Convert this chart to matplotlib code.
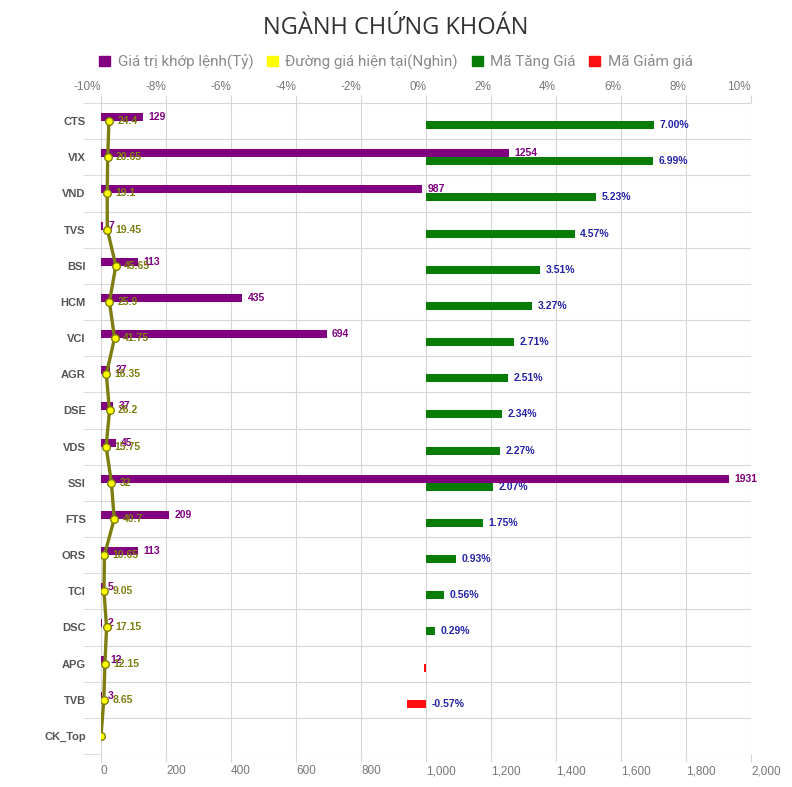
import matplotlib
matplotlib.use("Agg")
import matplotlib.pyplot as plt
from matplotlib.patches import Patch
import numpy as np

# data
tickers = ["CTS", "VIX", "VND", "TVS", "BSI", "HCM", "VCI", "AGR", "DSE",
           "VDS", "SSI", "FTS", "ORS", "TCI", "DSC", "APG", "TVB", "CK_Top"]
trade_value = [129, 1254, 987, 7, 113, 435, 694, 27, 37,
               45, 1931, 209, 113, 5, 2, 12, 3, np.nan]
price = [24.4, 20.65, 19.1, 19.45, 45.65, 25.9, 41.75, 16.35, 26.2,
         15.75, 32, 40.7, 10.65, 9.05, 17.15, 12.15, 8.65, 0]
change_pct = [7.00, 6.99, 5.23, 4.57, 3.51, 3.27, 2.71, 2.51, 2.34,
              2.27, 2.07, 1.75, 0.93, 0.56, 0.29, -0.05, -0.57, np.nan]

PURPLE = "#800080"
GREEN = "#077d07"
RED = "#ff1010"
OLIVE = "#7d7d10"
YELLOW = "#ffff00"
GRID = "#d6d6d6"

plt.rcParams["font.family"] = ["Liberation Sans", "DejaVu Sans"]

fig = plt.figure(figsize=(7.92, 7.87), dpi=100)
ax = fig.add_axes([101 / 792, 1 - 754 / 787, 650 / 792, 651 / 787])
ax2 = ax.twiny()

y = np.arange(len(tickers))
chg = np.array(change_pct, dtype=float)
val = np.array(trade_value, dtype=float)

# percent bars (top axis)
ax.set_xlim(-10, 10)
ax.set_ylim(len(tickers) - 0.5, -0.5)
pos = np.where(chg >= 0, chg, np.nan)
neg = np.where(chg < 0, chg, np.nan)
ax.barh(y + 0.11, pos, height=0.22, color=GREEN)
ax.barh(y + 0.11, neg, height=0.22, color=RED)
for yi, c in zip(y, chg):
    if np.isnan(c) or abs(c) < 0.1:
        continue
    ax.annotate(f"{c:.2f}%", (max(c, 0), yi + 0.11), xytext=(4, 0),
                textcoords="offset points", va="center", ha="left",
                fontsize=7.5, fontweight="bold", color="#2424a8")

ax.xaxis.tick_top()
ax.set_xticks(np.arange(-10, 11, 2))
ax.set_xticklabels([f"{v}%" for v in range(-10, 11, 2)], ha="right")
ax.tick_params(axis="x", length=6, color=GRID, labelsize=8.5, labelcolor="#777777", pad=1)
ax.grid(axis="x", color=GRID, lw=0.8)
ax.set_yticks(y)
ax.set_yticklabels(tickers, fontweight="bold", fontsize=8, color="#555555")
ax.set_yticks(np.arange(-0.5, len(tickers), 1), minor=True)
ax.tick_params(axis="y", which="major", length=0, pad=11)
ax.tick_params(axis="y", which="minor", length=13, color=GRID)
ax.grid(axis="y", which="minor", color=GRID, lw=0.8)
ax.set_axisbelow(True)
for s in ax.spines.values():
    s.set_visible(False)

# value bars and price line (bottom axis)
ax2.set_xlim(0, 2000)
ax2.xaxis.tick_bottom()
ax2.set_xticks(np.arange(0, 2001, 200))
ax2.set_xticklabels([f"{v:,}" for v in range(0, 2001, 200)], ha="left")
ax2.tick_params(axis="x", length=6, color=GRID, labelsize=8.5, labelcolor="#777777", pad=2)
ax2.patch.set_visible(False)
for s in ax2.spines.values():
    s.set_visible(False)

ax2.barh(y - 0.11, val, height=0.22, color=PURPLE)
for yi, v in zip(y, val):
    if np.isnan(v):
        continue
    ax2.annotate(f"{int(v)}", (v, yi - 0.11), xytext=(4, 0),
                 textcoords="offset points", va="center", ha="left",
                 fontsize=7.5, fontweight="bold", color=PURPLE)

ax2.plot(price, y, color=OLIVE, lw=2.4, marker="o", markersize=5.5,
         markerfacecolor=YELLOW, markeredgecolor=OLIVE, markeredgewidth=1, zorder=5)
for yi, p in zip(y, price):
    if p == 0:
        continue
    ax2.annotate(f"{p:g}", (p, yi), xytext=(6, 0), textcoords="offset points",
                 va="center", ha="left", fontsize=7.5, fontweight="bold",
                 color=OLIVE, zorder=6)

fig.text(0.5, 1 - 28 / 787, "NGÀNH CHỨNG KHOÁN", ha="center", va="center",
         fontsize=17, fontweight="medium", color="#333333",
         family=["Open Sans", "DejaVu Sans"])

handles = [Patch(color=PURPLE), Patch(color=YELLOW), Patch(color=GREEN), Patch(color=RED)]
labels = ["Giá trị khớp lệnh(Tỷ)", "Đường giá hiện tại(Nghìn)", "Mã Tăng Giá", "Mã Giảm giá"]
leg = fig.legend(handles, labels, loc="center", bbox_to_anchor=(0.5, 1 - 62 / 787),
                 ncol=4, frameon=False, handlelength=0.7, handleheight=0.7,
                 handletextpad=0.5, columnspacing=0.9,
                 prop={"family": ["Roboto", "DejaVu Sans"], "size": 11})
for t in leg.get_texts():
    t.set_color("#8a8a8a")

fig.savefig("out.png", dpi=100)
